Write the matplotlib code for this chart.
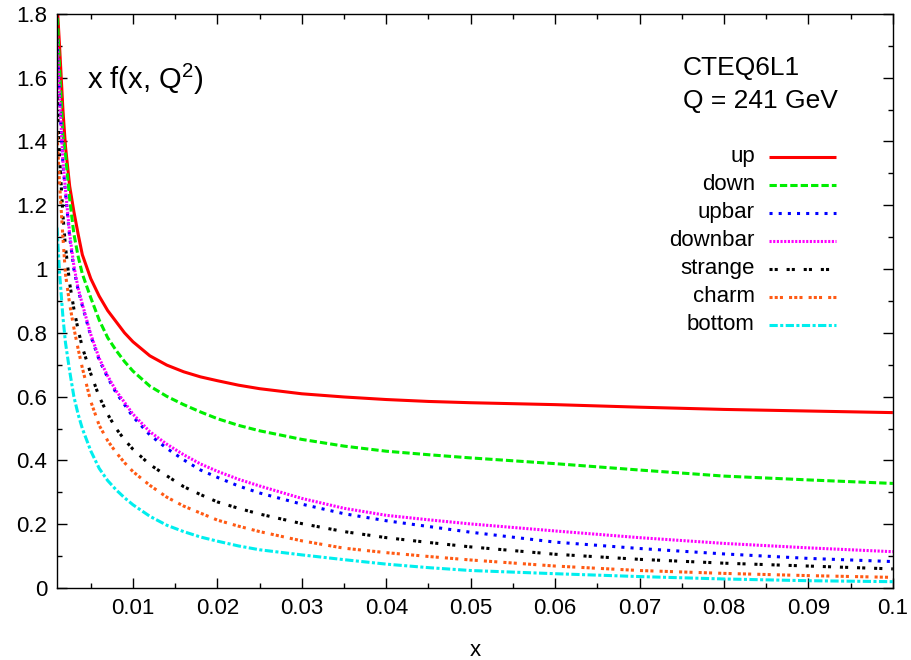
import matplotlib
matplotlib.use("Agg")
import matplotlib.pyplot as plt
from matplotlib.ticker import MultipleLocator, FuncFormatter

plt.rcParams['font.family'] = ['Liberation Sans', 'DejaVu Sans']
plt.rcParams['mathtext.fontset'] = 'custom'
plt.rcParams['mathtext.rm'] = 'Liberation Sans'
plt.rcParams['mathtext.default'] = 'regular'

# momentum fraction x and x*f(x, Q^2) for each parton
x_vals = [0.001, 0.0013, 0.0017, 0.002, 0.0025, 0.003, 0.0035, 0.004, 0.005, 0.006,
          0.007, 0.008, 0.009, 0.010, 0.012, 0.014, 0.016, 0.018, 0.020, 0.0225,
          0.025, 0.030, 0.035, 0.040, 0.045, 0.050, 0.060, 0.070, 0.080, 0.090, 0.100]

up = [1.84, 1.70, 1.50, 1.385, 1.26, 1.18, 1.11, 1.045, 0.97, 0.915,
      0.87, 0.835, 0.80, 0.772, 0.728, 0.699, 0.678, 0.662, 0.650, 0.636,
      0.625, 0.609, 0.599, 0.591, 0.585, 0.581, 0.575, 0.567, 0.560, 0.555, 0.550]
down = [1.82, 1.63, 1.42, 1.36, 1.22, 1.11, 1.04, 0.985, 0.91, 0.84,
        0.785, 0.745, 0.71, 0.68, 0.633, 0.601, 0.575, 0.552, 0.531, 0.510,
        0.493, 0.466, 0.445, 0.429, 0.418, 0.408, 0.390, 0.370, 0.351, 0.339, 0.328]
upbar = [1.72, 1.53, 1.33, 1.24, 1.10, 1.00, 0.935, 0.885, 0.79, 0.715,
         0.66, 0.612, 0.575, 0.537, 0.480, 0.438, 0.402, 0.370, 0.347, 0.320,
         0.298, 0.263, 0.233, 0.211, 0.193, 0.175, 0.144, 0.124, 0.107, 0.093, 0.083]
downbar = [1.73, 1.54, 1.34, 1.25, 1.11, 1.01, 0.94, 0.89, 0.795, 0.72,
           0.665, 0.618, 0.582, 0.545, 0.490, 0.451, 0.418, 0.389, 0.366, 0.341,
           0.320, 0.281, 0.250, 0.228, 0.214, 0.201, 0.179, 0.158, 0.140, 0.126, 0.114]
strange = [1.54, 1.35, 1.17, 1.07, 0.955, 0.875, 0.81, 0.755, 0.672, 0.60,
           0.545, 0.50, 0.465, 0.435, 0.387, 0.352, 0.318, 0.293, 0.270, 0.250,
           0.232, 0.202, 0.177, 0.158, 0.143, 0.129, 0.106, 0.090, 0.078, 0.069, 0.060]
charm = [1.43, 1.27, 1.10, 0.985, 0.89, 0.815, 0.75, 0.69, 0.585, 0.51,
         0.462, 0.425, 0.393, 0.365, 0.322, 0.285, 0.257, 0.235, 0.213, 0.194,
         0.177, 0.148, 0.125, 0.111, 0.099, 0.088, 0.069, 0.055, 0.046, 0.039, 0.0335]
bottom = [1.13, 0.99, 0.85, 0.77, 0.68, 0.60, 0.545, 0.50, 0.43, 0.375,
          0.337, 0.308, 0.283, 0.261, 0.225, 0.197, 0.177, 0.160, 0.147, 0.132,
          0.120, 0.104, 0.089, 0.075, 0.064, 0.055, 0.045, 0.036, 0.0285, 0.023, 0.020]

names = ["up", "down", "upbar", "downbar", "strange", "charm", "bottom"]
series = [up, down, upbar, downbar, strange, charm, bottom]
colors = ["#ff0000", "#00ee00", "#0000ff", "#ff00ff", "#000000", "#ff5a14", "#00eeee"]
dashes = [None, (2.4, 1.0), (1.0, 2.0), (0.7, 0.5), (1.0, 0.7, 1.0, 2.9),
          (1.0, 0.7, 1.0, 0.7, 1.0, 2.0), (2.7, 0.8, 1.0, 0.8)]

fig = plt.figure(figsize=(9.12, 6.6), dpi=100)
ax = fig.add_axes([0.0625, 0.109, 0.9165, 0.87])

lw = 2.2
for name, ys, c, d in zip(names, series, colors, dashes):
    line, = ax.plot(x_vals, ys, color=c, lw=lw, solid_capstyle='butt',
                    solid_joinstyle='round')
    if d is not None:
        line.set_dashes(d)

ax.set_xlim(0.001, 0.1)
ax.set_ylim(0, 1.8)
ax.xaxis.set_major_locator(MultipleLocator(0.01))
ax.xaxis.set_minor_locator(MultipleLocator(0.005))
ax.yaxis.set_major_locator(MultipleLocator(0.2))
ax.yaxis.set_minor_locator(MultipleLocator(0.1))
ax.xaxis.set_major_formatter(FuncFormatter(lambda v, p: f"{v:g}"))
ax.yaxis.set_major_formatter(FuncFormatter(lambda v, p: f"{round(v, 1):g}"))
ax.tick_params(which='both', direction='in', top=True, right=True, width=1.0,
               labelsize=16, pad=7)
ax.tick_params(which='major', length=7)
ax.tick_params(which='minor', length=3.6)
for s in ax.spines.values():
    s.set_linewidth(1.0)
ax.set_xlabel("x", fontsize=16, labelpad=15)

ax.text(0.036, 0.885, "x f(x, Q$^{2}$)", transform=ax.transAxes, fontsize=21,
        va='center', ha='left')
ax.text(0.749, 0.906, "CTEQ6L1", transform=ax.transAxes, fontsize=19,
        va='center', ha='left')
ax.text(0.749, 0.848, "Q = 241 GeV", transform=ax.transAxes, fontsize=19,
        va='center', ha='left')

# key in the upper right: label on the left, line sample on the right
row0, step = 0.751, 0.0488
for i, (name, c, d) in enumerate(zip(names, colors, dashes)):
    yk = row0 - i * step
    ax.text(0.835, yk, name, transform=ax.transAxes, fontsize=16,
            ha='right', va='center')
    key, = ax.plot([0.852, 0.932], [yk, yk], transform=ax.transAxes,
                   color=c, lw=lw, solid_capstyle='butt')
    if d is not None:
        key.set_dashes(d)

fig.savefig("out.png", dpi=100)
